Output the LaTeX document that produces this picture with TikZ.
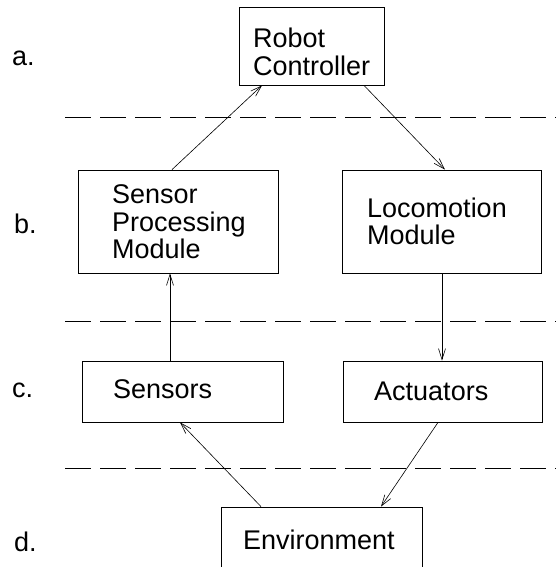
\documentclass[tikz,border=0pt]{standalone}
\usepackage{fontspec}
\setmainfont{Liberation Sans}
\usetikzlibrary{arrows.meta}
\begin{document}
\begin{tikzpicture}[x=1pt,y=-1pt,
  box/.style={draw,line width=0.8pt,rectangle,inner sep=0pt,anchor=center},
  txt/.style={anchor=base west,inner sep=0pt,font=\fontsize{27}{28}\selectfont},
  conn/.style={line width=0.6pt,-{Straight Barb[length=11pt,width=7pt,line width=0.6pt]}},
  sep/.style={line width=0.8pt,dash pattern=on 26pt off 9pt}]
\useasboundingbox (0,0) rectangle (556,567);
% boxes
\node[box,minimum width=145pt,minimum height=78pt] (rc) at (311.5,46) {};
\node[box,minimum width=200pt,minimum height=103pt] (spm) at (178,221.5) {};
\node[box,minimum width=199pt,minimum height=103pt] (loc) at (441.5,221.5) {};
\node[box,minimum width=201pt,minimum height=61pt] (sen) at (182.5,391.5) {};
\node[box,minimum width=199pt,minimum height=61pt] (act) at (442.5,391.5) {};
\node[box,minimum width=201pt,minimum height=100pt] (env) at (321.5,557) {};
% texts
\node[txt] (t1) at (253,48) {Robot};
\node[txt] (t2) at (253,76) {Controller};
\node[txt] (t3) at (112,203) {Sensor};
\node[txt] (t4) at (112,231) {Processing};
\node[txt] (t5) at (112,258) {Module};
\node[txt] (t6) at (367,217) {Locomotion};
\node[txt] (t7) at (367,244) {Module};
\node[txt] (t8) at (113,398) {Sensors};
\node[txt] (t9) at (374,400) {Actuators};
\node[txt] (t10) at (243,549) {Environment};
% level labels
\node[txt] (la) at (12,66) {a.};
\node[txt] (lb) at (14,233) {b.};
\node[txt] (lc) at (12,397) {c.};
\node[txt] (ld) at (14,551) {d.};
% separators
\coordinate (s1a) at (65,117); \coordinate (s1b) at (556,117);
\coordinate (s2a) at (65,321); \coordinate (s2b) at (556,321);
\coordinate (s3a) at (65,468); \coordinate (s3b) at (556,468);
\draw[sep] (s1a) -- (s1b);
\draw[sep] (s2a) -- (s2b);
\draw[sep] (s3a) -- (s3b);
% connectors
\draw[conn] (spm.north -| 172,0) -- (rc.south -| 262,0);
\draw[conn] (rc.south -| 364,0) -- (loc.north -| 445,0);
\draw[conn] (sen.north -| 170,0) -- (spm.south -| 170,0);
\draw[conn] (loc.south -| 442,0) -- (act.north -| 442,0);
\draw[conn] (act.south -| 438,0) -- (env.north -| 381,0);
\draw[conn] (env.north -| 261,0) -- (sen.south -| 180,0);
\end{tikzpicture}
\end{document}
